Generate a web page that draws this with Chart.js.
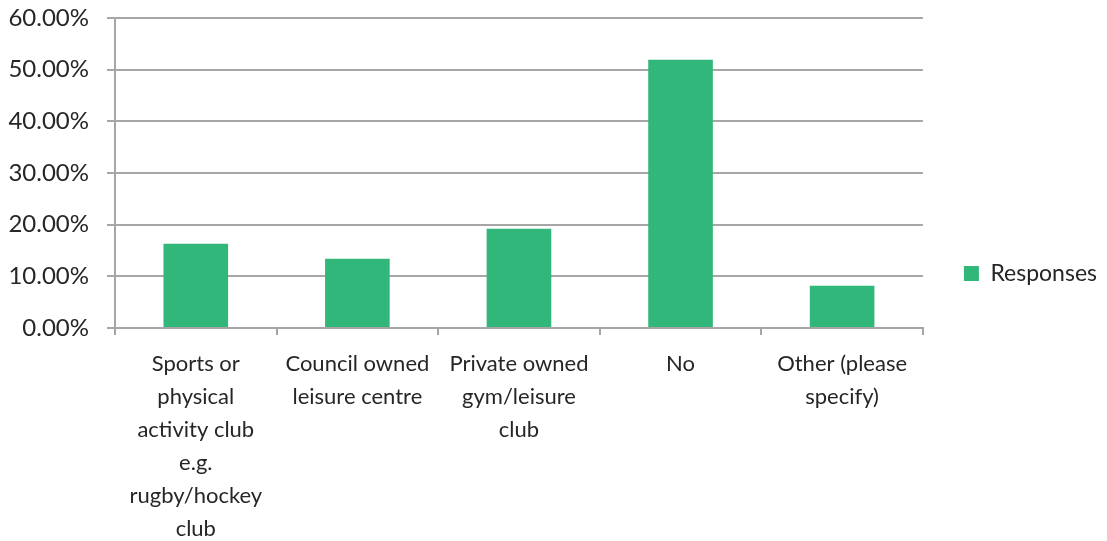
<!DOCTYPE html>
<html>
<head>
<meta charset="utf-8">
<script src="https://cdn.jsdelivr.net/npm/chart.js@4.4.0/dist/chart.umd.min.js"></script>
<style>
  html, body { margin: 0; padding: 0; background: #fff; }
  #wrap { width: 1107px; height: 541px; }
</style>
</head>
<body>
<div id="wrap"><canvas id="chart"></canvas></div>
<script>
const CATEGORIES = [
  ["Sports or", "physical", "activity club", "e.g.", "rugby/hockey", "club"],
  ["Council owned", "leisure centre"],
  ["Private owned", "gym/leisure", "club"],
  "No",
  ["Other (please", "specify)"],
];
const RESPONSES = [16.3, 13.4, 19.2, 51.9, 8.2];
const Y_TICKS = [0, 10, 20, 30, 40, 50, 60];

const BAR_COLOR = "#31b77a";
const GRID_COLOR = "#a6a6a6";
const TEXT_COLOR = "#262626";
const FONT = "Lato";

Chart.defaults.font.family = FONT;
Chart.defaults.color = TEXT_COLOR;

new Chart(document.getElementById("chart"), {
  type: "bar",
  data: {
    labels: CATEGORIES,
    datasets: [
      {
        label: "Responses",
        data: RESPONSES,
        backgroundColor: BAR_COLOR,
        categoryPercentage: 1,
        barPercentage: 0.4,
      },
    ],
  },
  options: {
    responsive: true,
    maintainAspectRatio: false,
    animation: false,
    layout: { padding: { top: 6, right: 0, left: 0, bottom: 0 } },
    plugins: {
      tooltip: { enabled: false },
      legend: {
        position: "right",
        labels: {
          boxWidth: 15,
          boxHeight: 15,
          padding: 41,
          color: TEXT_COLOR,
          font: { size: 23 },
        },
      },
    },
    scales: {
      y: {
        min: 0,
        max: 60,
        afterFit: (scale) => {
          // fixed axis width and a fixed gap above the plot
          scale.width = 115;
          scale.paddingTop = 18;
          scale.paddingBottom = 0;
        },
        afterBuildTicks: (scale) => {
          scale.ticks = Y_TICKS.map((v) => ({ value: v }));
        },
        border: { color: GRID_COLOR, width: 2 },
        grid: { color: GRID_COLOR, lineWidth: 2, tickLength: 8 },
        ticks: {
          padding: 18,
          font: { size: 24 },
          callback: (v) => v.toFixed(2) + "%",
        },
      },
      x: {
        afterFit: (scale) => { scale.height = 213; },
        border: { color: GRID_COLOR, width: 2 },
        grid: {
          offset: true,
          drawOnChartArea: false,
          color: GRID_COLOR,
          lineWidth: 2,
          tickLength: 7,
        },
        ticks: {
          autoSkip: false,
          maxRotation: 0,
          minRotation: 0,
          padding: 12,
          font: { size: 22, lineHeight: 1.5 },
        },
      },
    },
  },
});
</script>
</body>
</html>
